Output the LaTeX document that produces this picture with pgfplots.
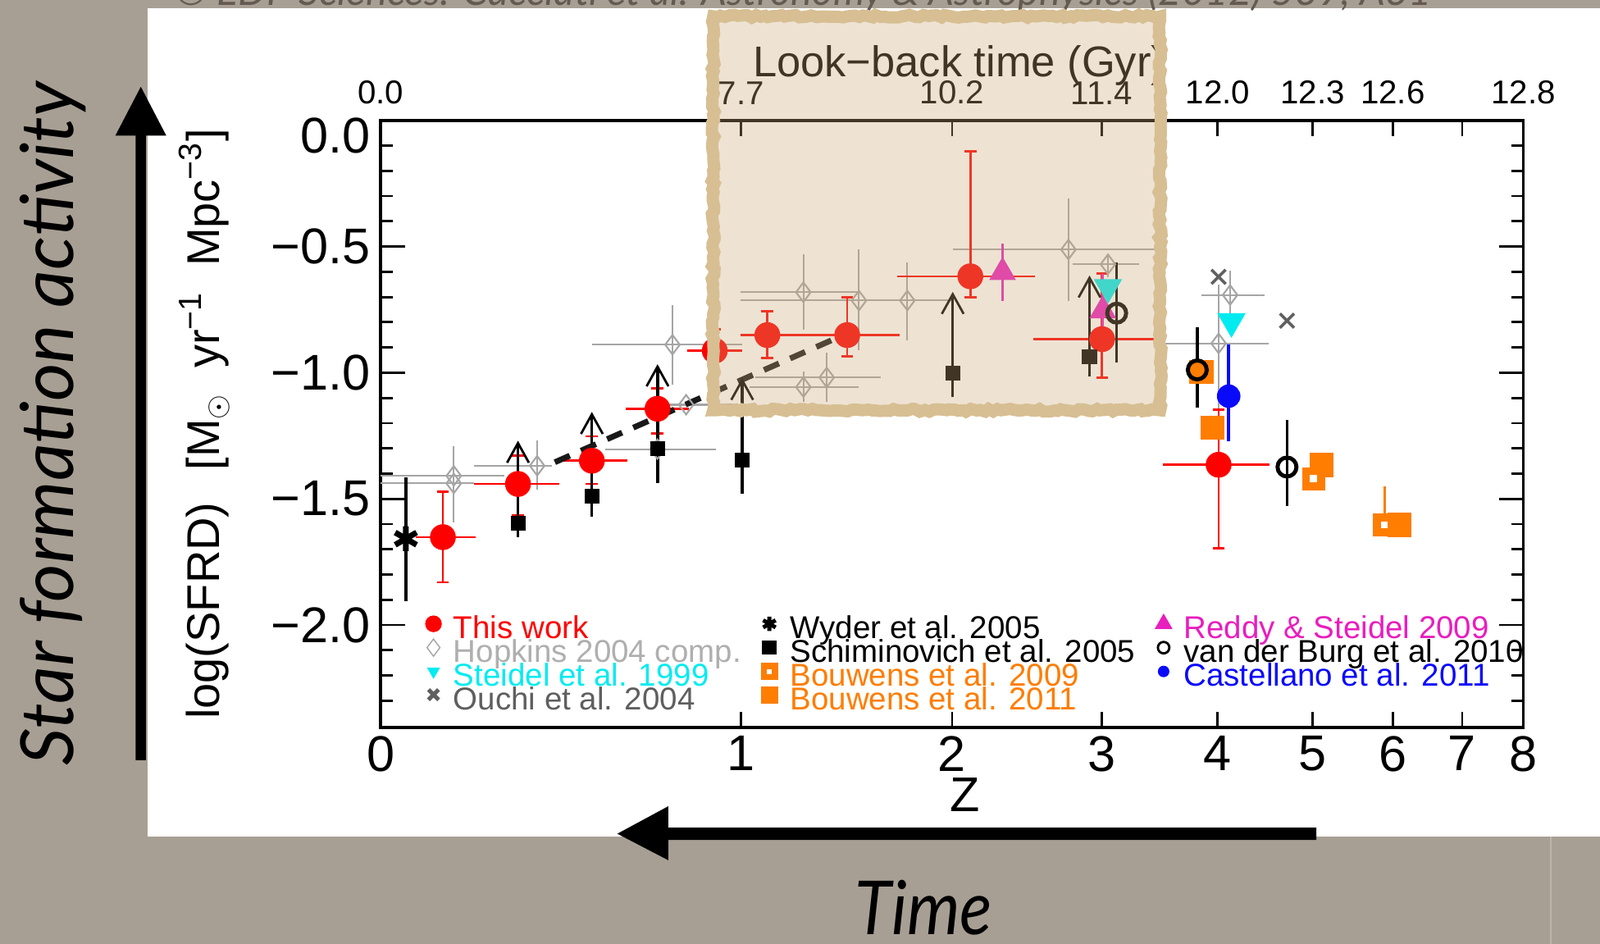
\documentclass[border=0pt]{standalone}
\usepackage{fontspec}
\setmainfont{Liberation Sans}
\newfontfamily\slidefont{Lato}
\usepackage{pgfplots}
\usepackage{pgfplotstable}
\pgfplotsset{compat=1.18}
\usetikzlibrary{decorations.pathmorphing}

\definecolor{bg}{RGB}{168,159,148}
\definecolor{bgline}{RGB}{188,180,170}
\definecolor{capt}{RGB}{100,90,82}
\definecolor{hop}{RGB}{165,165,165}
\definecolor{hoptxt}{RGB}{175,175,175}
\definecolor{tanb}{RGB}{215,191,147}
\definecolor{tanf}{RGB}{205,170,120}
\definecolor{cyn}{RGB}{0,235,240}
\definecolor{mag}{RGB}{232,30,190}
\definecolor{org}{RGB}{255,125,0}
\definecolor{blu}{RGB}{10,10,250}
\definecolor{ouchi}{RGB}{95,95,95}

\pgfdeclareplotmark{chev}{%
  \pgfpathmoveto{\pgfqpoint{-\pgfplotmarksize}{-1.8\pgfplotmarksize}}%
  \pgfpathlineto{\pgfqpoint{0pt}{0pt}}%
  \pgfpathlineto{\pgfqpoint{\pgfplotmarksize}{-1.8\pgfplotmarksize}}%
  \pgfusepathqstroke}
\pgfdeclareplotmark{bsq}{%
  \pgfpathrectangle{\pgfqpoint{-\pgfplotmarksize}{-\pgfplotmarksize}}{\pgfqpoint{2\pgfplotmarksize}{2\pgfplotmarksize}}%
  \pgfusepathqfill
  \begin{pgfscope}%
  \pgfsetfillcolor{white}%
  \pgfpathrectangle{\pgfqpoint{-0.3\pgfplotmarksize}{-0.3\pgfplotmarksize}}{\pgfqpoint{0.6\pgfplotmarksize}{0.6\pgfplotmarksize}}%
  \pgfusepathqfill
  \end{pgfscope}}

\pgfplotstableread{
x y xm xp ym yp
0.0520 -1.652 0.0229 0.0273 0.179 0.180
0.1147 -1.441 0.0365 0.0342 0.125 0.113
0.1764 -1.349 0.0275 0.0296 0.092 0.097
0.2312 -1.143 0.0264 0.0262 0.098 0.081
0.2790 -0.913 0.0228 0.0229 0.084 0.084
0.3229 -0.851 0.0225 0.0371 0.092 0.095
0.3896 -0.851 0.0296 0.0441 0.084 0.149
0.4924 -0.618 0.0612 0.0538 0.082 0.496
0.6024 -0.867 0.0575 0.0521 0.152 0.260
0.6997 -1.365 0.0464 0.0427 0.331 0.219
}\redt

\pgfplotstableread{
x y xm xp ym yp
0.0611 -1.409 0.0611 0.0422 0.184 0.119
0.0611 -1.439 0.0611 0.0171 0 0
0.1307 -1.369 0.0525 0.0125 0.094 0.101
0.2437 -0.889 0.0673 0.0582 0.157 0.157
0.2312 -1.303 0.0434 0.0490 0 0
0.2551 -1.127 0.0239 0.0434 0 0
0.3530 -0.681 0.0526 0.0464 0.148 0.149
0.3994 -0.714 0.0990 0.0404 0.197 0.204
0.4398 -0.714 0.0404 0.0379 0.159 0.150
0.3530 -1.057 0.0452 0.0464 0.060 0.060
0.3725 -1.019 0.0599 0.0453 0.098 0.097
0.5743 -0.512 0.0966 0.0792 0.204 0.202
0.6073 -0.570 0.0294 0.0257 0.050 0.038
0.7093 -0.692 0.0239 0.0285 0.090 0.095
0.6997 -0.884 0.0452 0.0416 0.259 0.233
}\hopt

\pgfplotstableread{
x y ym yp t
0.1147 -1.598 0.054 0.319 -1.279
0.1764 -1.490 0.081 0.325 -1.165
0.2312 -1.300 0.136 0.324 -0.976
0.3019 -1.346 0.133 0.316 -1.030
0.4777 -1.003 0.092 0.314 -0.689
0.5919 -0.938 0.076 0.314 -0.624
}\schit

\pgfplotsset{
  base/.style={scale only axis, width=140mm, height=74.375mm,
    at={(46.625mm,26.5mm)}, anchor=south west, xmin=0, xmax=0.95424},
}

\begin{document}
\begin{tikzpicture}
\useasboundingbox (0,0) rectangle (196mm,115.625mm);
\clip (0,0) rectangle (196mm,115.625mm);
\fill[bg] (0,0) rectangle (196mm,115.625mm);
\begin{scope}[shift={(0mm,115.625mm)}, x=0.125mm, y=-0.125mm]
  \fill[white] (145,8) rectangle (1568,820);
  \draw[bgline, line width=0.6pt] (1520,820) -- (1520,925);
  \node[anchor=base west, inner sep=0pt, text=capt, font=\slidefont\itshape\fontsize{14}{16}\selectfont] at (170,5) {© EDP Sciences: Cucciati et al. Astronomy \& Astrophysics (2012) 539, A31};
\end{scope}

% bottom x axis
\begin{axis}[base, ymin=0, ymax=1, axis x line*=bottom, axis y line=none,
  axis line style={line width=1pt},
  xtick={0,0.30103,0.47712,0.60206,0.69897,0.77815,0.84510,0.90309,0.95424},
  xticklabels={0,1,2,3,4,5,6,7,8},
  major tick length=1.9mm, every tick/.style={black, line width=0.8pt},
  xticklabel style={font=\fontsize{17.5}{20}\selectfont, inner sep=0pt, yshift=-1.0mm},
  xlabel={Z},
  every axis x label/.style={at={(axis description cs:0.5116,0)}, anchor=north, inner sep=0pt, yshift=-6.1mm, font=\fontsize{17}{20}\selectfont},
]
\end{axis}

% top x axis
\begin{axis}[base, ymin=0, ymax=1, axis x line*=top, axis y line=none,
  axis line style={line width=1pt},
  xtick={0,0.30103,0.47712,0.60206,0.69897,0.77815,0.84510,0.90309,0.95424},
  xticklabels={0.0,7.7,10.2,11.4,12.0,12.3,12.6,{},12.8},
  major tick length=1.9mm, every tick/.style={black, line width=0.8pt},
  xticklabel style={font=\fontsize{11.5}{13}\selectfont, inner sep=0pt, yshift=1.9mm},
  xlabel={Look−back time (Gyr)},
  every axis x label/.style={at={(axis description cs:0.5063,1)}, anchor=base, inner sep=0pt, yshift=5.4mm, font=\fontsize{15}{18}\selectfont},
]
\end{axis}

% main axis
\begin{axis}[base, ymin=-2.407, ymax=0,
  xtick=\empty,
  ytick={-0.5,-1,-1.5,-2}, yticklabels={−0.5,−1.0,−1.5,−2.0},
  extra y ticks={0}, extra y tick labels={0.0},
  extra y tick style={yticklabel style={yshift=-1.9mm}},
  minor ytick={-0.1,-0.2,-0.3,-0.4,-0.6,-0.7,-0.8,-0.9,-1.1,-1.2,-1.3,-1.4,-1.6,-1.7,-1.8,-1.9,-2.1,-2.2,-2.3},
  ytick pos=both,
  major tick length=3mm, minor tick length=1.5mm,
  every tick/.style={black, line width=0.8pt},
  axis line style={line width=1pt},
  yticklabel style={font=\fontsize{17.5}{20}\selectfont},
  ylabel={log(SFRD)\hspace{0.7em}[M\textsubscript{$\odot$}\hspace{0.55em}yr\textsuperscript{−1}\hspace{0.55em}Mpc\textsuperscript{−3}]},
  every axis y label/.style={at={(axis description cs:0,0.5)}, xshift=-21.6mm, rotate=90, anchor=center, font=\fontsize{16}{19}\selectfont},
  legend columns=3, legend cell align=left,
  legend image code/.code={\draw[#1] plot coordinates {(0pt,2.7pt)};},
  legend style={draw=none, fill=none, at={(0.039,0.187)}, anchor=north west,
    inner sep=0pt, font=\fontsize{11}{12}\selectfont, row sep=-1.5pt,
    column sep=1.5mm,
    /tikz/column 2/.append style={column sep=2.4mm},
    /tikz/column 4/.append style={column sep=2.5mm},
    nodes={inner sep=0pt, text height=6.6pt, text depth=1.6pt}},
]
% Hopkins 2004 compilation
\addplot[forget plot, hop, only marks, mark=diamond, mark size=3.4pt, mark options={line width=0.6pt},
  error bars/.cd, x dir=both, x explicit, y dir=both, y explicit, error mark=none,
  error bar style={hop, line width=0.6pt}]
  table[x=x, y=y, x error plus=xp, x error minus=xm, y error plus=yp, y error minus=ym] {\hopt};
% This work: horizontal bars
\addplot[forget plot, red, only marks, mark=none,
  error bars/.cd, x dir=both, x explicit, error mark=none,
  error bar style={red, line width=0.8pt}]
  table[x=x, y=y, x error plus=xp, x error minus=xm] {\redt};
% This work: vertical bars and points
\addplot[forget plot, red, only marks, mark=*, mark size=4.3pt,
  error bars/.cd, y dir=both, y explicit,
  error bar style={red, line width=0.8pt},
  error mark options={red, line width=0.8pt, mark size=2.1pt, rotate=90}]
  table[x=x, y=y, y error plus=yp, y error minus=ym] {\redt};
% Schiminovich et al. 2005 with lower-limit arrows
\addplot[forget plot, black, only marks, mark=square*, mark size=2.4pt,
  error bars/.cd, y dir=both, y explicit, error mark=none,
  error bar style={black, line width=1pt}]
  table[x=x, y=y, y error plus=yp, y error minus=ym] {\schit};
\addplot[forget plot, black, only marks, mark=chev, mark size=3.8pt, mark options={line width=0.8pt}]
  table[x=x, y=t] {\schit};
% Wyder et al. 2005
\addplot[forget plot, black, only marks, mark=asterisk, mark size=4.3pt, mark options={line width=2pt},
  error bars/.cd, y dir=both, y explicit, error mark=none, error bar style={black, line width=0.9pt}]
  coordinates {(0.0211,-1.658) += (0,0.244) -= (0,0.249)};
% Reddy & Steidel 2009
\addplot[forget plot, mag, only marks, mark=triangle*, mark size=5pt,
  error bars/.cd, y dir=both, y explicit, error mark=none, error bar style={mag, line width=0.9pt}]
  coordinates {(0.5193,-0.602) += (0,0.114) -= (0,0.114) (0.6030,-0.754) += (0,0.147) -= (0,0.081)};
% Steidel et al. 1999
\addplot[forget plot, only marks, mark=triangle*, mark size=5.3pt, mark options={rotate=180, fill=cyn, draw=cyn}]
  coordinates {(0.6073,-0.662) (0.7104,-0.797)};
% Ouchi et al. 2004
\addplot[forget plot, ouchi, only marks, mark=x, mark size=3.5pt, mark options={line width=1pt}]
  coordinates {(0.6997,-0.620) (0.7568,-0.794)};
% Bouwens et al. 2011
\addplot[forget plot, org, only marks, mark=square*, mark size=4pt]
  coordinates {(0.6854,-0.997) (0.6944,-1.219) (0.7857,-1.366) (0.8508,-1.604)};
% Bouwens et al. 2009
\addplot[forget plot, org, only marks, mark=bsq, mark size=4pt,
  error bars/.cd, y dir=both, y explicit, error mark=none, error bar style={org, line width=0.9pt}]
  coordinates {(0.7789,-1.420) += (0,0) -= (0,0) (0.8382,-1.604) += (0,0.152) -= (0,0)};
% van der Burg et al. 2010
\addplot[forget plot, black, only marks, mark=o, mark size=3.3pt, mark options={line width=1.4pt},
  error bars/.cd, y dir=both, y explicit, error mark=none, error bar style={black, line width=1pt}]
  coordinates {(0.6146,-0.764) += (0,0.200) -= (0,0.196) (0.6819,-0.989) += (0,0.170) -= (0,0.149) (0.7568,-1.374) += (0,0.187) -= (0,0.154)};
% Castellano et al. 2011
\addplot[forget plot, blu, only marks, mark=*, mark size=3.9pt,
  error bars/.cd, y dir=both, y explicit, error mark=none, error bar style={blu, line width=1pt}]
  coordinates {(0.7081,-1.093) += (0,0.204) -= (0,0.180)};
% dashed fit line
\addplot[forget plot, black!90, line width=2pt, dash pattern=on 2mm off 1.5mm, mark=none]
  coordinates {(0.1455,-1.355) (0.4044,-0.813)};

% legend (row-major, 3 columns)
\addlegendimage{only marks, mark=*, red, mark size=2.7pt}
\addlegendentry{\textcolor{red}{This work}}
\addlegendimage{only marks, mark=asterisk, black, mark size=2.5pt, mark options={line width=1.4pt}}
\addlegendentry{Wyder et al. 2005}
\addlegendimage{only marks, mark=triangle*, mag, mark size=3.2pt}
\addlegendentry{\textcolor{mag}{Reddy \& Steidel 2009}}
\addlegendimage{only marks, mark=diamond, hop, mark size=3pt}
\addlegendentry{\textcolor{hoptxt}{Hopkins 2004 comp.}}
\addlegendimage{only marks, mark=square*, black, mark size=2.3pt}
\addlegendentry{Schiminovich et al. 2005}
\addlegendimage{only marks, mark=o, black, mark size=2pt, mark options={line width=0.8pt}}
\addlegendentry{van der Burg et al. 2010}
\addlegendimage{only marks, mark=triangle*, cyn, mark size=2.2pt, mark options={rotate=180}}
\addlegendentry{\textcolor{cyn}{Steidel et al. 1999}}
\addlegendimage{only marks, mark=bsq, org, mark size=3pt}
\addlegendentry{\textcolor{org}{Bouwens et al. 2009}}
\addlegendimage{only marks, mark=*, blu, mark size=1.8pt}
\addlegendentry{\textcolor{blu}{Castellano et al. 2011}}
\addlegendimage{only marks, mark=x, ouchi, mark size=2.5pt, mark options={line width=1.4pt}}
\addlegendentry{\textcolor{ouchi}{Ouchi et al. 2004}}
\addlegendimage{only marks, mark=square*, org, mark size=2.8pt}
\addlegendentry{\textcolor{org}{Bouwens et al. 2011}}
\end{axis}

\begin{scope}[shift={(0mm,115.625mm)}, x=0.125mm, y=-0.125mm]
  % highlight box
  \fill[tanf, fill opacity=0.32] (699,16) rectangle (1137,402);
  \draw[tanb, line width=1.5mm, decorate, decoration={random steps, segment length=1.5pt, amplitude=0.5pt}] (699,16) rectangle (1137,402);
  % vertical arrow
  \fill[black] (133,745) -- (143,745) -- (143,133) -- (163,133) -- (138,85) -- (113,133) -- (133,133) -- cycle;
  % horizontal arrow
  \fill[black] (1290,811) -- (1290,823) -- (655,823) -- (655,843) -- (605,817) -- (655,790) -- (655,811) -- cycle;
  \node[rotate=90, anchor=center, inner sep=0pt, font=\slidefont\itshape\fontsize{26}{30}\selectfont] at (52,415) {\resizebox{83.75mm}{!}{Star formation activity}};
  \node[anchor=base, inner sep=0pt, font=\slidefont\itshape\fontsize{26}{30}\selectfont] at (905,916) {\scalebox{0.9}[1]{Time}};
\end{scope}
\end{tikzpicture}
\end{document}
